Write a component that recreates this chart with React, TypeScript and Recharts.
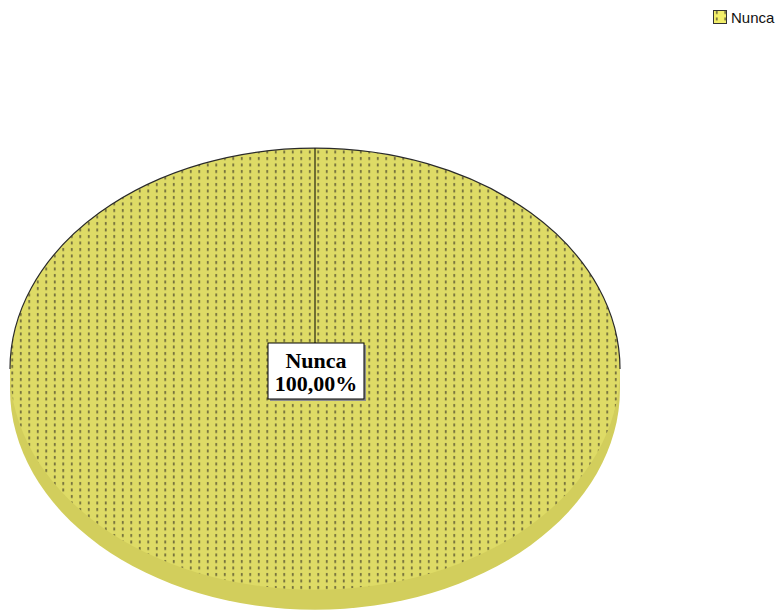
import { PieChart, Pie, Legend } from 'recharts';

// categories and values
const categories = ['Nunca'];
const values = [100];
const percentLabels = ['100,00%'];

const data = categories.map((name, i) => ({ name, value: values[i], pct: percentLabels[i] }));

const FILL = '#dedb66';
const SIDE = '#d2ce5c';
const DOT = '#5e5a34';
const SQUASH = 0.724;
const DEPTH = 20;

const DotPattern = ({ id }: { id: string }) => (
    <defs>
        <pattern id={id} width={8.5} height={6.5} patternUnits="userSpaceOnUse">
            <rect x={3} y={1} width={1.5} height={3} fill={DOT} />
        </pattern>
    </defs>
);

// draws the pie slice as a flat 3D disc (single slice = whole ellipse)
const DiscSlice = (props: any) => {
    const { cx, cy, outerRadius } = props;
    const rx = outerRadius;
    const ry = outerRadius * SQUASH;
    return (
        <g>
            <DotPattern id="pieDots" />
            <ellipse cx={cx} cy={cy + DEPTH} rx={rx} ry={ry} fill={SIDE} />
            <rect x={cx - rx} y={cy} width={rx * 2} height={DEPTH} fill={SIDE} />
            <ellipse cx={cx} cy={cy} rx={rx} ry={ry} fill={FILL} />
            <ellipse cx={cx} cy={cy} rx={rx} ry={ry} fill="url(#pieDots)" />
            <path
                d={`M ${cx - rx} ${cy} A ${rx} ${ry} 0 0 1 ${cx + rx} ${cy}`}
                fill="none"
                stroke="#2a2a2a"
                strokeWidth={1.2}
            />
        </g>
    );
};

const renderLabel = (props: any) => {
    const { cx, cy, outerRadius, payload } = props;
    const ry = outerRadius * SQUASH;
    const boxW = 96;
    const boxH = 56;
    const bx = cx - boxW / 2 + 1;
    const by = cy - 26;
    const font = {
        fontFamily: "'Liberation Serif', 'Times New Roman', serif",
        fontWeight: 'bold' as const,
        fontSize: 22,
        fill: '#000',
    };
    return (
        <g>
            <line x1={cx} y1={cy - ry} x2={cx} y2={by} stroke="#000" strokeWidth={1} />
            <rect x={bx + 2} y={by + 2} width={boxW} height={boxH} fill="#8c8c8c" />
            <rect x={bx} y={by} width={boxW} height={boxH} fill="#fff" stroke="#000" strokeWidth={1} />
            <text x={bx + boxW / 2} y={by + 25} textAnchor="middle" {...font}>
                {payload.name}
            </text>
            <text x={bx + boxW / 2} y={by + 48} textAnchor="middle" {...font}>
                {payload.pct}
            </text>
        </g>
    );
};

const LegendBox = () => (
    <div
        style={{
            display: 'flex',
            alignItems: 'center',
            fontFamily: "'Liberation Sans', Arial, sans-serif",
            fontSize: 15,
            whiteSpace: 'nowrap',
            color: '#111',
        }}
    >
        <svg width={15} height={15} style={{ marginRight: 3 }}>
            <DotPattern id="legendDots" />
            <rect x={0.5} y={0.5} width={13} height={13} fill="#f2ee6a" stroke="#333" />
            <rect x={0.5} y={0.5} width={13} height={13} fill="url(#legendDots)" />
        </svg>
        <span>{categories[0]}</span>
    </div>
);

export default function App() {
    return (
        <div style={{ position: 'absolute', left: 0, top: 0, background: '#fff', overflow: 'hidden', width: 783, height: 611 }}>
            <PieChart width={783} height={611} margin={{ top: 0, right: 0, bottom: 0, left: 0 }}>
                <Pie
                    data={data}
                    dataKey="value"
                    nameKey="name"
                    cx={315}
                    cy={369}
                    outerRadius={305}
                    startAngle={90}
                    endAngle={-270}
                    stroke="none"
                    shape={DiscSlice}
                    label={renderLabel}
                    labelLine={false}
                    isAnimationActive={false}
                />
                <Legend
                    layout="vertical"
                    verticalAlign="top"
                    align="right"
                    content={LegendBox}
                    wrapperStyle={{ top: 9, left: 713, right: 'auto', width: 'auto' }}
                />
            </PieChart>
        </div>
    );
}
